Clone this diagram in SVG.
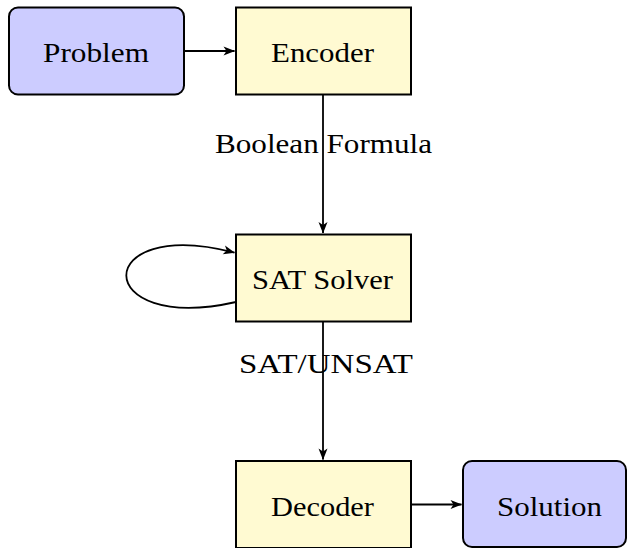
<svg xmlns="http://www.w3.org/2000/svg" width="628" height="548" viewBox="0 0 628 548">
<style>
.blue{fill:#ccccff;stroke:#000;stroke-width:2}
.yel{fill:#fffad2;stroke:#000;stroke-width:2}
.t{font-family:'Liberation Serif','DejaVu Serif',serif;font-size:28px;fill:#000;text-anchor:middle}
.c{fill:none;stroke:#000;stroke-width:1.8}
</style>
<defs>
<marker id="ah" viewBox="-12 -5 13 10" refX="0" refY="0" markerWidth="13" markerHeight="10" markerUnits="userSpaceOnUse" orient="auto">
<path d="M0.5,0 L-11,-4.5 L-8,0 L-11,4.5 Z" fill="#000"/>
</marker>
</defs>
<rect width="628" height="548" fill="#fff"/>
<g id="connectors">
<line class="c" x1="184" y1="51" x2="234.5" y2="51" marker-end="url(#ah)"/>
<line class="c" x1="323" y1="94.5" x2="323" y2="233" marker-end="url(#ah)"/>
<line class="c" x1="323" y1="321.5" x2="323" y2="459.5" marker-end="url(#ah)"/>
<line class="c" x1="411" y1="504.5" x2="461.5" y2="504.5" marker-end="url(#ah)"/>
<path class="c" d="M236,302 C90,335 90,215 234.5,252.6" marker-end="url(#ah)"/>
</g>
<g id="labels">
<text class="t" x="323.5" y="153" textLength="217" lengthAdjust="spacingAndGlyphs">Boolean Formula</text>
<text class="t" x="326" y="373" textLength="174" lengthAdjust="spacingAndGlyphs">SAT/UNSAT</text>
</g>
<g id="problem">
<rect class="blue" x="9" y="7.5" width="175" height="87" rx="9"/>
<text class="t" x="96" y="62" textLength="106" lengthAdjust="spacingAndGlyphs">Problem</text>
</g>
<g id="encoder">
<rect class="yel" x="236" y="7.5" width="175" height="87"/>
<text class="t" x="322.5" y="62" textLength="103" lengthAdjust="spacingAndGlyphs">Encoder</text>
</g>
<g id="sat-solver">
<rect class="yel" x="236" y="234.5" width="175" height="87"/>
<text class="t" x="322.5" y="289" textLength="141" lengthAdjust="spacingAndGlyphs">SAT Solver</text>
</g>
<g id="decoder">
<rect class="yel" x="236" y="461" width="175" height="87"/>
<text class="t" x="322.5" y="515.5" textLength="103" lengthAdjust="spacingAndGlyphs">Decoder</text>
</g>
<g id="solution">
<rect class="blue" x="463" y="461" width="163" height="86" rx="9"/>
<text class="t" x="549.5" y="515.5" textLength="105" lengthAdjust="spacingAndGlyphs">Solution</text>
</g>
</svg>
